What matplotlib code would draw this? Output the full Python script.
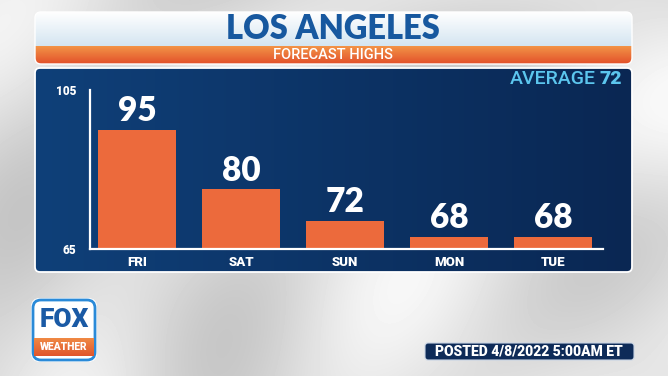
import matplotlib
matplotlib.use("Agg")
import matplotlib.pyplot as plt
from matplotlib.patches import FancyBboxPatch
from matplotlib.colors import LinearSegmentedColormap
import numpy as np

# forecast highs
days = ["FRI", "SAT", "SUN", "MON", "TUE"]
highs = [95, 80, 72, 68, 68]
y_min, y_max = 65, 105
average = 72
city = "LOS ANGELES"
subtitle = "FORECAST HIGHS"
posted = "POSTED 4/8/2022 5:00AM ET"

FONT = "Lato"
SMALL = "Roboto"
W, H = 668, 376

fig = plt.figure(figsize=(W / 100, H / 100), dpi=100)

# background layer in pixel coordinates
bg = fig.add_axes([0, 0, 1, 1])
bg.set_xlim(0, W)
bg.set_ylim(H, 0)
bg.axis("off")

# light grey swirl background
yy, xx = np.mgrid[0:H, 0:W]
r = np.hypot(xx - 820, yy - 620)
base = 0.86 + 0.05 * np.sin(r / 38.0) + 0.03 * (xx / W)
r2 = np.hypot(xx + 150, yy - 700)
base += 0.04 * np.cos(r2 / 55.0)
base = np.clip(base, 0.72, 0.97)
bg.imshow(base, cmap="gray", vmin=0, vmax=1, extent=(0, W, H, 0), zorder=0)


def grad_box(x0, y0, x1, y1, c_top, c_bot, clip, z, horiz=False):
    cmap = LinearSegmentedColormap.from_list("g", [c_top, c_bot])
    g = np.linspace(0, 1, 256)
    g = g.reshape(1, -1) if horiz else g.reshape(-1, 1)
    im = bg.imshow(g, cmap=cmap, extent=(x0, x1, y1, y0), aspect="auto", zorder=z)
    im.set_clip_path(clip)


# header panel
hdr = FancyBboxPatch((35, 12), 597, 52, boxstyle="round,pad=0,rounding_size=6",
                     facecolor="none", edgecolor="#ffffff", linewidth=1, zorder=3)
bg.add_patch(hdr)
grad_box(35, 12, 632, 46, "#ffffff", "#d4e5f1", hdr, 2)
grad_box(35, 46, 632, 64, "#f39447", "#e2502a", hdr, 2)
bg.text(333, 29, city, color="#17589f", fontsize=23.5, fontweight="heavy",
        family=FONT, ha="center", va="center", zorder=4)
bg.text(333, 55, subtitle, color="white", fontsize=10.5, family=SMALL,
        fontweight="medium", ha="center", va="center", zorder=4)

# chart panel
pnl = FancyBboxPatch((35, 68), 597, 204, boxstyle="round,pad=0,rounding_size=5",
                     facecolor="none", edgecolor="#ffffff", linewidth=1.3, zorder=3)
bg.add_patch(pnl)
grad_box(35, 68, 632, 272, "#0f4079", "#0a2753", pnl, 2, horiz=True)

bg.text(596, 79, "AVERAGE", color="#5cc6ee", fontsize=14, family=SMALL,
        fontweight="medium", ha="right", va="center", zorder=4)
bg.text(622, 79, str(average), color="#5cc6ee", fontsize=14, fontweight="black",
        family=SMALL, ha="right", va="center", zorder=4)

# FOX WEATHER logo
logo_out = FancyBboxPatch((31, 298), 66, 64, boxstyle="round,pad=0,rounding_size=9",
                          facecolor="white", edgecolor="none", zorder=3)
bg.add_patch(logo_out)
logo = FancyBboxPatch((33, 300), 62, 60, boxstyle="round,pad=0,rounding_size=8",
                      facecolor="white", edgecolor="#2a8ad8", linewidth=2, zorder=3)
bg.add_patch(logo)
grad_box(34, 338, 94, 356, "#f08a45", "#e0552c", logo, 4)
bg.text(64, 320, "FOX", color="#1a5aa5", fontsize=19, fontweight="black",
        family=SMALL, ha="center", va="center", zorder=5)
bg.text(64, 347, "WEATHER", color="white", fontsize=7.5, fontweight="black",
        family=SMALL, ha="center", va="center", zorder=5)

# posted stamp
stamp = FancyBboxPatch((425, 343), 209, 17, boxstyle="round,pad=0,rounding_size=3",
                       facecolor="#0e2b58", edgecolor="#c8d4e4", linewidth=0.8, zorder=3)
bg.add_patch(stamp)
bg.text(529, 352, posted, color="white", fontsize=10, fontweight="black",
        family=SMALL, ha="center", va="center", zorder=4)

# bar chart axes
left_px, right_px, top_px, base_px = 90, 603, 90, 249
ax = fig.add_axes([left_px / W, (H - base_px) / H, (right_px - left_px) / W,
                   (base_px - top_px) / H])
ax.patch.set_alpha(0)
x = np.arange(len(days))
ax.bar(x, [h - y_min for h in highs], bottom=y_min, width=0.75, color="#ec6a3c", zorder=2)
ax.set_xlim(-0.452, 4.48)
ax.set_ylim(y_min, y_max)

for xi, h in zip(x, highs):
    ax.annotate(str(h), (xi, h), xytext=(0, 2), textcoords="offset points",
                ha="center", va="bottom", color="white", fontsize=24,
                fontweight="heavy", family=FONT)

ax.set_xticks(x)
ax.set_xticklabels(days, color="white", fontsize=9.5, fontweight="black", family=SMALL)
ax.set_yticks([y_min, y_max])
ax.set_yticklabels([str(y_min), str(y_max)], color="white", fontsize=8.5,
                   fontweight="black", family=SMALL)
ax.tick_params(length=0, pad=5)
ax.tick_params(axis="y", pad=10)
for s in ["top", "right"]:
    ax.spines[s].set_visible(False)
for s in ["left", "bottom"]:
    ax.spines[s].set_color("white")
    ax.spines[s].set_linewidth(1.6)

fig.savefig("out.png", dpi=100)
